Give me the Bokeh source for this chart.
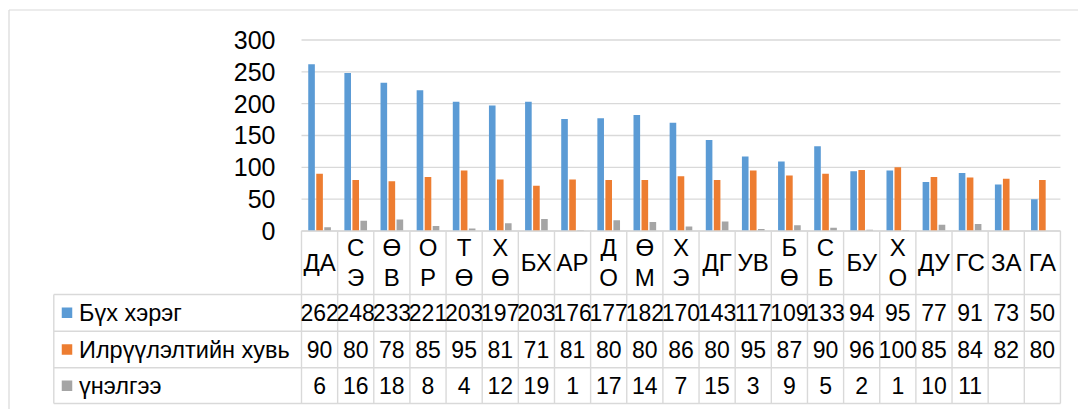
import numpy as np
from bokeh.plotting import figure
from bokeh.models import ColumnDataSource, Range1d, LinearAxis, FixedTicker
from bokeh.core.properties import value
from bokeh.transform import dodge
from bokeh.embed import file_html
from bokeh.resources import INLINE

# ---------------- data ----------------
categories = ["ДА", "СЭ", "ӨВ", "ОР", "ТӨ", "ХӨ", "БХ", "АР", "ДО", "ӨМ", "ХЭ",
              "ДГ", "УВ", "БӨ", "СБ", "БУ", "ХО", "ДУ", "ГС", "ЗА", "ГА"]
category_labels = ["ДА", "С\nЭ", "Ө\nВ", "О\nР", "Т\nӨ", "Х\nӨ", "БХ", "АР", "Д\nО", "Ө\nМ", "Х\nЭ",
                   "ДГ", "УВ", "Б\nӨ", "С\nБ", "БУ", "Х\nО", "ДУ", "ГС", "ЗА", "ГА"]
series_names = ["Бүх хэрэг", "Илрүүлэлтийн хувь", "үнэлгээ"]
total_cases = [262, 248, 233, 221, 203, 197, 203, 176, 177, 182, 170, 143, 117, 109, 133, 94, 95, 77, 91, 73, 50]
detection_rate = [90, 80, 78, 85, 95, 81, 71, 81, 80, 80, 86, 80, 95, 87, 90, 96, 100, 85, 84, 82, 80]
assessment = [6, 16, 18, 8, 4, 12, 19, 1, 17, 14, 7, 15, 3, 9, 5, 2, 1, 10, 11, None, None]
y_ticks = [0, 50, 100, 150, 200, 250, 300]
colors = ["#5B9BD5", "#ED7D31", "#A5A5A5"]

# ---------------- layout constants ----------------
W, H = 1078, 409
CAT_PX = 36.14      # pixels per category column
UNIT_PX = 0.6367    # pixels per value unit
X0_PX = 301.0       # canvas x of first category edge
Y0_PX = 230.5       # canvas y of value 0
FONT = "Liberation Sans"
GRID = "#D9D9D9"

def xu(px):
    return (px - X0_PX) / CAT_PX

def yu(py):
    return (Y0_PX - py) / UNIT_PX

row_edges_px = [230.5, 294.0, 330.7, 367.3, 403.0]
row_edges = [yu(v) for v in row_edges_px]
cat_row_y = (row_edges[0] + row_edges[1]) / 2
data_rows_y = [(row_edges[i] + row_edges[i + 1]) / 2 for i in (1, 2, 3)]
legend_left = xu(53.3)

n = len(categories)
xs = np.arange(n) + 0.5

def fmt(v):
    return "" if v is None else str(v)

src = ColumnDataSource(dict(
    x=xs,
    cat=categories,
    label=category_labels,
    total=total_cases,
    rate=detection_rate,
    score=[np.nan if v is None else v for v in assessment],
    total_s=[fmt(v) for v in total_cases],
    rate_s=[fmt(v) for v in detection_rate],
    score_s=[fmt(v) for v in assessment],
))

p = figure(width=W, height=H,
           x_range=Range1d(xu(0), xu(W)), y_range=Range1d(yu(H), yu(0)),
           x_axis_type=None, y_axis_type=None,
           output_backend="svg", toolbar_location=None,
           min_border=0, outline_line_color=None,
           background_fill_color="white", border_fill_color="white")
p.xgrid.visible = False
p.ygrid.visible = False

# horizontal value grid lines (plot area only)
p.segment(x0=0, x1=n, y0=y_ticks, y1=y_ticks, line_color=GRID, line_width=1.4)

# y axis at the plot-area left edge
yaxis = LinearAxis(ticker=FixedTicker(ticks=y_ticks), fixed_location=0, bounds=(0, 300),
                   axis_line_color=None, major_tick_line_color=None, minor_tick_line_color=None,
                   major_label_standoff=20, major_label_text_font=FONT,
                   major_label_text_font_size="25px", major_label_text_color="black")
p.add_layout(yaxis, "left")

# bars
fields = ["total", "rate", "score"]
offsets = [-0.222, 0.0, 0.222]
for f, off, c in zip(fields, offsets, colors):
    p.vbar(x=dodge("x", off), top=f, bottom=0, width=0.183, source=src,
           fill_color=c, line_color=None)

# data table grid
h_lines_x0 = [0] + [legend_left] * 4
p.segment(x0=h_lines_x0, x1=n, y0=row_edges, y1=row_edges, line_color=GRID, line_width=1.4)
p.segment(x0=list(range(n + 1)), x1=list(range(n + 1)), y0=row_edges[0], y1=row_edges[-1],
          line_color=GRID, line_width=1.4)
p.segment(x0=legend_left, x1=legend_left, y0=row_edges[1], y1=row_edges[-1],
          line_color=GRID, line_width=1.4)

# category labels
p.text(x="x", y=cat_row_y, text="label", source=src, text_align="center",
       text_baseline="middle", text_font=value(FONT), text_font_size="24px",
       text_line_height=1.12, text_color="black")

# value rows
for ry, f in zip(data_rows_y, ["total_s", "rate_s", "score_s"]):
    p.text(x="x", y=ry, text=f, source=src, text_align="center", text_baseline="middle",
           text_font=value(FONT), text_font_size="23px", text_color="black")

# legend column
p.scatter(x=xu(66.5), y=data_rows_y, marker="square", size=10.5, fill_color=colors,
          line_color=None)
p.text(x=xu(78.5), y=data_rows_y, text=series_names, text_align="left", text_baseline="middle",
       text_font=value(FONT), text_font_size="23.5px", text_color="black")

# chart outer border (left and top, rest lies outside the window)
p.segment(x0=xu(8.5), x1=xu(8.5), y0=yu(9.5), y1=yu(H), line_color=GRID, line_width=1.2)
p.segment(x0=xu(8.5), x1=xu(W), y0=yu(9.5), y1=yu(9.5), line_color=GRID, line_width=1.2)

open("out.html", "w").write(file_html(p, INLINE))
